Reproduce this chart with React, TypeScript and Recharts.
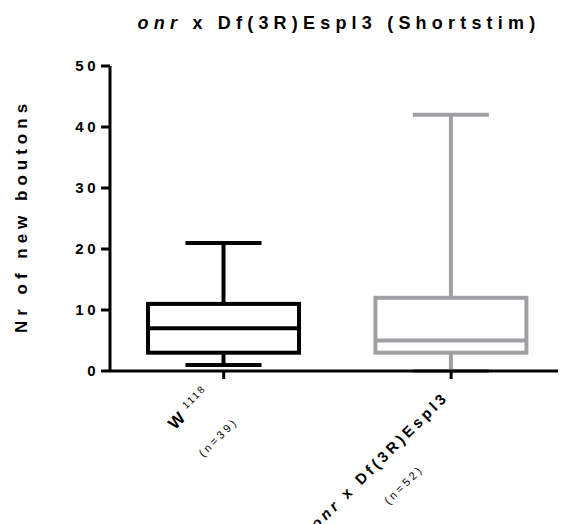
import { ComposedChart, Bar, XAxis, YAxis } from "recharts"

const groupNames = ["W", "onr x Df(3R)Espl3"]
const groupCounts = ["(n=39)", "(n=52)"]
const whiskerLow = [1, 0]
const quartile1 = [3, 3]
const medians = [7, 5]
const quartile3 = [11, 12]
const whiskerHigh = [21, 42]
const yTicks = [0, 10, 20, 30, 40, 50]
const boxColors = ["#000000", "#a0a0a4"]

const data = groupNames.map((name, i) => ({
  pos: i + 1,
  name,
  range: [whiskerLow[i], whiskerHigh[i]],
  low: whiskerLow[i],
  q1: quartile1[i],
  median: medians[i],
  q3: quartile3[i],
  high: whiskerHigh[i],
  color: boxColors[i],
}))

const FONT = '"Liberation Sans", Arial, sans-serif'

function BoxPlotShape(props: any) {
  const { x, y, width, height, payload } = props
  const top = height < 0 ? y + height : y
  const h = Math.abs(height)
  // map a value onto the pixel span that the bar scale gave us for [low, high]
  const toY = (v: number) =>
    top + h - ((v - payload.low) / (payload.high - payload.low)) * h
  const sw = 4
  const cx = x + width / 2
  const left = x + sw / 2
  const right = x + width - sw / 2
  const cap = 38
  return (
    <g stroke={payload.color} strokeWidth={sw} fill="none">
      <line x1={cx} x2={cx} y1={toY(payload.high)} y2={toY(payload.q3)} />
      <line x1={cx} x2={cx} y1={toY(payload.q1)} y2={toY(payload.low)} />
      <line x1={cx - cap} x2={cx + cap} y1={toY(payload.high)} y2={toY(payload.high)} />
      <line x1={cx - cap} x2={cx + cap} y1={toY(payload.low)} y2={toY(payload.low)} />
      <rect
        x={left}
        y={toY(payload.q3)}
        width={right - left}
        height={toY(payload.q1) - toY(payload.q3)}
        fill="#fff"
      />
      <line x1={left} x2={right} y1={toY(payload.median)} y2={toY(payload.median)} />
    </g>
  )
}

// rotated two-line category labels, lines centred on each other
const labelCenter = [-45, -108]
const line1Offset = [2, 12]
const line2Offset = [41, 45]

function GroupTick(props: any) {
  const { x, y, payload } = props
  const i = Math.round(payload.value) - 1
  if (i < 0 || i > 1) return null
  return (
    <g transform={`translate(${x},${y}) rotate(-45)`} fontFamily={FONT} fill="#000">
      {i === 0 ? (
        <text x={labelCenter[i]} y={line1Offset[i]} textAnchor="middle" fontWeight="bold" fontSize={17} letterSpacing={3}>
          {groupNames[i]}
          <tspan fontWeight="normal" fontSize={10} dy={-7} dx={4} letterSpacing={2}>1118</tspan>
        </text>
      ) : (
        <text x={labelCenter[i]} y={line1Offset[i]} textAnchor="middle" fontWeight="bold" fontSize={15} letterSpacing={3.6}>
          <tspan fontStyle="italic">onr</tspan>
          {groupNames[i].slice(3)}
        </text>
      )}
      <text x={labelCenter[i]} y={line2Offset[i]} textAnchor="middle" fontSize={11} letterSpacing={3}>
        {groupCounts[i]}
      </text>
    </g>
  )
}

export default function App() {
  return (
    <div style={{ position: "absolute", left: 0, top: 0, width: 561, height: 524, background: "#fff" }}>
      <ComposedChart
        width={561}
        height={524}
        data={data}
        margin={{ top: 66, right: 3, bottom: 93, left: 50 }}
      >
        <XAxis
          type="number"
          dataKey="pos"
          domain={[0.5, 2.47]}
          ticks={[1, 2]}
          interval={0}
          allowDataOverflow
          height={60}
          tickSize={8}
          tickMargin={0}
          axisLine={{ stroke: "#000", strokeWidth: 3 }}
          tickLine={{ stroke: "#000", strokeWidth: 3 }}
          tick={<GroupTick />}
        />
        <YAxis
          type="number"
          domain={[0, 50]}
          ticks={yTicks}
          interval={0}
          width={60}
          tickSize={9}
          tickMargin={2}
          axisLine={{ stroke: "#000", strokeWidth: 3 }}
          tickLine={{ stroke: "#000", strokeWidth: 3 }}
          tick={{ fill: "#000", fontSize: 15, fontWeight: "bold", fontFamily: FONT, letterSpacing: 3.5 }}
        />
        <Bar dataKey="range" barSize={155} isAnimationActive={false} shape={<BoxPlotShape />} />
      </ComposedChart>
      <svg
        width={561}
        height={524}
        style={{ position: "absolute", left: 0, top: 0, pointerEvents: "none" }}
        fontFamily={FONT}
      >
        <text x={339} y={29} textAnchor="middle" fontWeight="bold" fontSize={18} letterSpacing={5.2}>
          <tspan fontStyle="italic">onr</tspan> x Df(3R)Espl3 (Shortstim)
        </text>
        <text
          transform="translate(27,216) rotate(-90)"
          textAnchor="middle"
          fontWeight="bold"
          fontSize={17}
          letterSpacing={5}
        >
          Nr of new boutons
        </text>
      </svg>
    </div>
  )
}
